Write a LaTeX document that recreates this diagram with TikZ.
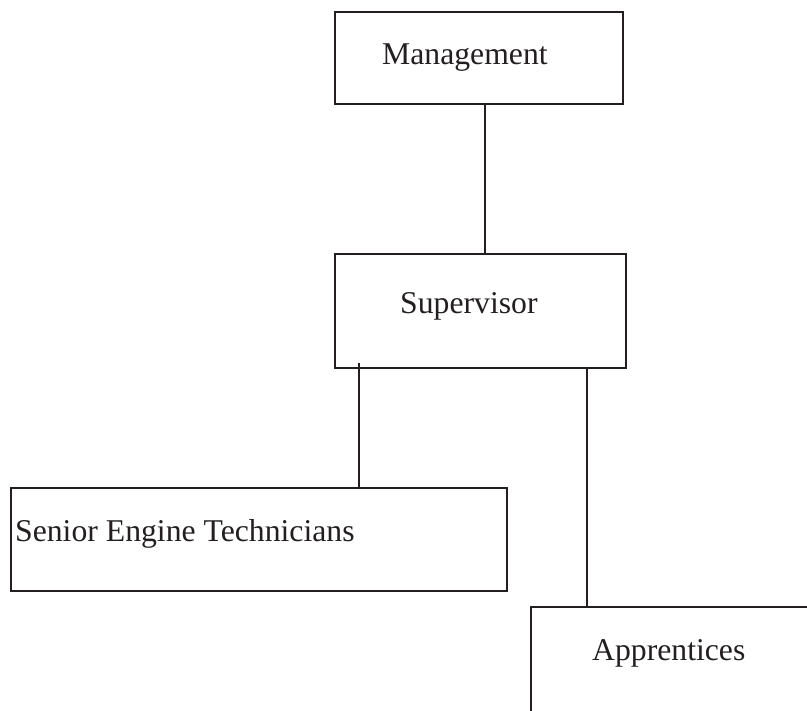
\documentclass[tikz,border=0pt]{standalone}
\usepackage{fontspec}
\setmainfont{Liberation Serif}
\usepackage{xcolor}
\usetikzlibrary{positioning,calc}
\definecolor{boxline}{RGB}{35,31,32}

\begin{document}
\begin{tikzpicture}[x=1pt,y=-1pt,
    orgbox/.style={draw=boxline,line width=2.8pt,rectangle,inner sep=0pt},
    orglabel/.style={anchor=base west,inner sep=0pt,text=boxline,font=\fontsize{31.7}{38}\selectfont},
    link/.style={draw=boxline,line width=2.8pt}]
    \clip (0,0) rectangle (807,711);

    % Management
    \node[orgbox,minimum width=288pt,minimum height=92pt] (mgmt) at (479,58) {};
    \node[orglabel] (mgmt-t) at (382,65) {Management};

    % Supervisor
    \node[orgbox,minimum width=291pt,minimum height=114pt] (sup) at (480.5,311) {};
    \node[orglabel] (sup-t) at (400,314) {Supervisor};

    % Staff
    \node[orgbox,minimum width=496pt,minimum height=103pt] (senior) at (259,539.5) {};
    \node[orglabel] (senior-t) at (15,542) {Senior Engine Technicians};
    \node[orgbox,minimum width=299pt,minimum height=133pt] (appr) at (680.5,673.5) {};
    \node[orglabel] (appr-t) at (592,660) {Apprentices};

    % Links
    \draw[link] ([xshift=6pt]mgmt.south) -- ([xshift=6pt]mgmt.south |- sup.north);
    \draw[link] ([xshift=100pt]senior.north) -- ([xshift=100pt,yshift=6pt]senior.north |- sup.south);
    \draw[link] ([xshift=106.5pt]sup.south) -- ([xshift=106.5pt]sup.south |- appr.north);
\end{tikzpicture}
\end{document}
